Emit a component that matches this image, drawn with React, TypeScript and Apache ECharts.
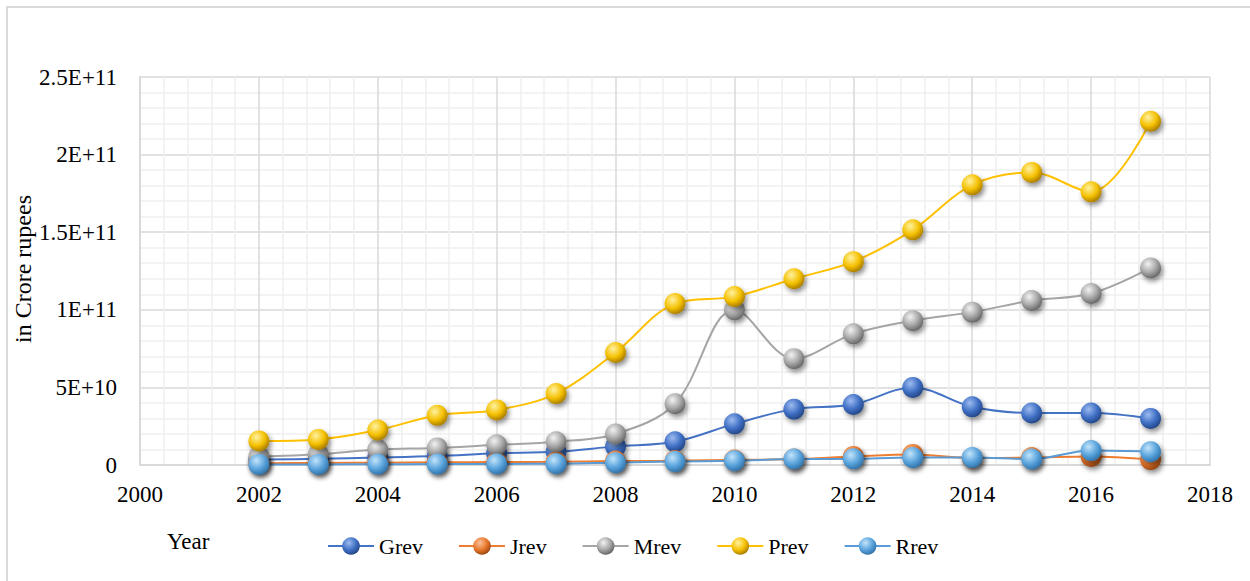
import React, { useEffect, useRef } from "react";
import * as echarts from "echarts";

const years = [2002, 2003, 2004, 2005, 2006, 2007, 2008, 2009, 2010, 2011, 2012, 2013, 2014, 2015, 2016, 2017];
// values in units of 1E+9 (multiplied below)
const grev = [3.5, 4, 4.8, 5.8, 7.5, 8.5, 12, 15, 26.5, 36, 39, 50, 37.5, 33.5, 33.5, 30];
const jrev = [1.2, 1.3, 1.5, 1.7, 1.9, 2.1, 2.5, 2.8, 3.2, 3.8, 5.5, 6.8, 4.5, 4.8, 5.5, 3.5];
const mrev = [5.5, 7, 10, 11, 13, 15, 20, 39.5, 100, 68.5, 84.5, 93, 98.5, 106, 110.5, 127];
const prev = [15.5, 16.5, 22.5, 32, 35.5, 46, 72.5, 104, 108.5, 120, 131, 151.5, 180.5, 188.5, 176, 221.5];
const rrev = [0.4, 0.4, 0.5, 0.6, 0.7, 0.8, 1.5, 2.2, 2.8, 3.8, 4, 4.8, 4.8, 3.8, 9.3, 8.6];
const seriesNames = ["Grev", "Jrev", "Mrev", "Prev", "Rrev"];
const yTickLabels = ["0", "5E+10", "1E+11", "1.5E+11", "2E+11", "2.5E+11"];

const FONT = "Liberation Serif";

function ball(base: string, light: string, dark: string) {
  return {
    type: "radial",
    x: 0.38,
    y: 0.32,
    r: 0.75,
    colorStops: [
      { offset: 0, color: light },
      { offset: 0.55, color: base },
      { offset: 1, color: dark },
    ],
  };
}

const styles = [
  { line: "#4472C4", fill: ball("#3f6fc4", "#9dbbf0", "#1f3f7a") },
  { line: "#ED7D31", fill: ball("#e8772c", "#f9c29a", "#8a3d0c") },
  { line: "#A5A5A5", fill: ball("#a5a5a5", "#f2f2f2", "#5a5a5a") },
  { line: "#FFC000", fill: ball("#f5c000", "#fff2a0", "#9a7000") },
  { line: "#5B9BD5", fill: ball("#59a3dc", "#c2e4fb", "#2a6aa0") },
];

export default function App() {
  const ref = useRef<HTMLDivElement>(null);
  useEffect(() => {
    if (!ref.current) return;
    const chart = echarts.init(ref.current, undefined, { renderer: "svg" });
    const all = [grev, jrev, mrev, prev, rrev];
    const series = all.map((vals, i) => ({
      name: seriesNames[i],
      type: "line",
      smooth: 0.35,
      data: years.map((y, k) => [y, vals[k] * 1e9]),
      symbol: "circle",
      symbolSize: 21,
      lineStyle: { color: styles[i].line, width: 2 },
      itemStyle: {
        color: styles[i].fill,
        borderWidth: 0,
        shadowBlur: 5,
        shadowColor: "rgba(0,0,0,0.45)",
        shadowOffsetX: 2,
        shadowOffsetY: 3,
      },
    }));
    chart.setOption({
      animation: false,
      backgroundColor: "#ffffff",
      grid: { left: 140, right: 40, top: 77, bottom: 116 },
      xAxis: {
        type: "value",
        min: 2000,
        max: 2018,
        interval: 2,
        axisLine: { show: true, lineStyle: { color: "#d9d9d9", width: 2 } },
        axisTick: { show: false },
        axisLabel: {
          margin: 18,
          color: "#000",
          fontFamily: FONT,
          fontSize: 23,
          formatter: (v: number) => String(v),
        },
        splitLine: { show: true, lineStyle: { color: "#d9d9d9", width: 1.5 } },
        minorTick: { show: false, splitNumber: 5 },
        minorSplitLine: { show: true, lineStyle: { color: "#efefef", width: 1.5 } },
      },
      yAxis: {
        type: "value",
        min: 0,
        max: 2.5e11,
        interval: 5e10,
        axisLine: { show: true, lineStyle: { color: "#d9d9d9", width: 2 } },
        axisTick: { show: false },
        axisLabel: {
          margin: 23,
          color: "#000",
          fontFamily: FONT,
          fontSize: 23,
          formatter: (v: number) => yTickLabels[Math.round(v / 5e10)] ?? "",
        },
        splitLine: { show: true, lineStyle: { color: "#d9d9d9", width: 1.5 } },
        minorTick: { show: false, splitNumber: 5 },
        minorSplitLine: { show: true, lineStyle: { color: "#efefef", width: 1.5 } },
      },
      legend: {
        left: 322,
        top: 530,
        itemWidth: 46,
        itemHeight: 22,
        itemGap: 35,
        textStyle: { fontFamily: FONT, fontSize: 22, color: "#000", padding: [0, 0, 0, 0] },
        data: seriesNames,
      },
      graphic: [
        {
          type: "rect",
          shape: { x: 7, y: 7, width: 1260, height: 600 },
          style: { fill: "none", stroke: "#d9d9d9", lineWidth: 2 },
          silent: true,
        },
        {
          type: "text",
          x: 23,
          y: 269,
          rotation: Math.PI / 2,
          style: {
            text: "in Crore rupees",
            fontFamily: FONT,
            fontSize: 24,
            fill: "#000",
            textAlign: "center",
            textVerticalAlign: "middle",
          },
        },
        {
          type: "text",
          x: 167,
          y: 541,
          style: {
            text: "Year",
            fontFamily: FONT,
            fontSize: 23,
            fill: "#000",
            textAlign: "left",
            textVerticalAlign: "middle",
          },
        },
      ],
      series,
    });
    return () => chart.dispose();
  }, []);
  return (
    <div
      ref={ref}
      style={{ position: "fixed", left: 0, top: 0, width: 1250, height: 581, background: "#fff" }}
    />
  );
}
